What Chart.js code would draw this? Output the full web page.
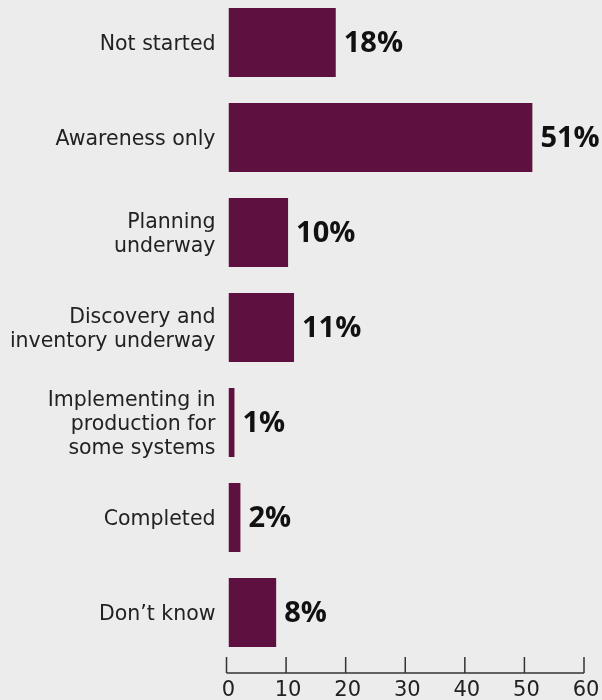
<!DOCTYPE html>
<html>
<head>
<meta charset="utf-8">
<script src="https://cdn.jsdelivr.net/npm/chart.js@4"></script>
<style>
  html, body { margin: 0; padding: 0; background: #ececec; overflow: hidden; }
  #wrap { position: absolute; left: 0; top: -5px; width: 602px; height: 705px; }
</style>
</head>
<body>
<div id="wrap"><canvas id="myChart"></canvas></div>
<script>
  const categories = [
    'Not started',
    'Awareness only',
    ['Planning', 'underway'],
    ['Discovery and', 'inventory underway'],
    ['Implementing in', 'production for', 'some systems'],
    'Completed',
    'Don\u2019t know'
  ];
  const values = [18, 51, 10, 11, 1, 2, 8];
  const tickValues = [0, 10, 20, 30, 40, 50, 60];

  const fontFamily = '"DejaVu Sans", sans-serif';

  // percentage labels at the end of each bar
  const valueLabels = {
    id: 'valueLabels',
    afterDatasetsDraw(chart) {
      const c = chart.ctx;
      const meta = chart.getDatasetMeta(0);
      c.save();
      c.font = 'bold 29px "Open Sans", sans-serif';
      c.fillStyle = '#111';
      c.textAlign = 'left';
      c.textBaseline = 'middle';
      meta.data.forEach((bar, i) => {
        c.fillText(values[i] + '%', bar.x + 8, bar.y + 1);
      });
      c.restore();
    }
  };

  // axis line with upward ticks
  const bottomAxis = {
    id: 'bottomAxis',
    afterDraw(chart) {
      const c = chart.ctx;
      const xs = chart.scales.x;
      const y = chart.chartArea.bottom + 13;
      c.save();
      c.strokeStyle = '#333';
      c.lineWidth = 1.5;
      c.beginPath();
      c.moveTo(xs.getPixelForValue(tickValues[0]) - 2, y);
      c.lineTo(xs.getPixelForValue(tickValues[tickValues.length - 1]) - 2, y);
      tickValues.forEach(v => {
        const px = xs.getPixelForValue(v) - 2;
        c.moveTo(px, y);
        c.lineTo(px, y - 16);
      });
      c.stroke();
      c.restore();
    }
  };

  const ctx = document.getElementById('myChart').getContext('2d');

  const myChart = new Chart(ctx, {
    type: 'bar',
    data: {
      labels: categories,
      datasets: [{
        data: values,
        backgroundColor: '#5e1040',
        categoryPercentage: 1,
        barPercentage: 0.725
      }]
    },
    options: {
      indexAxis: 'y',
      responsive: true,
      maintainAspectRatio: false,
      animation: false,
      layout: { padding: { left: 0, right: 16, top: 0, bottom: 0 } },
      plugins: {
        legend: { display: false },
        tooltip: { enabled: false }
      },
      scales: {
        x: {
          min: 0,
          max: 60,
          grid: { display: false, drawTicks: false },
          border: { display: false },
          afterFit(scale) {
            scale.height = 40;
            scale.paddingLeft = 0;
            scale.paddingRight = 0;
          },
          ticks: {
            stepSize: 10,
            padding: 18,
            color: '#222',
            font: { family: fontFamily, size: 21 }
          }
        },
        y: {
          grid: { display: false, drawTicks: false },
          border: { display: false },
          afterFit(scale) {
            scale.width = 228.5;
            scale.paddingTop = 0;
            scale.paddingBottom = 0;
          },
          ticks: {
            padding: 13,
            labelOffset: 2,
            color: '#222',
            font: { family: fontFamily, size: 20.5, lineHeight: 1.17 }
          }
        }
      }
    },
    plugins: [valueLabels, bottomAxis]
  });
</script>
</body>
</html>
